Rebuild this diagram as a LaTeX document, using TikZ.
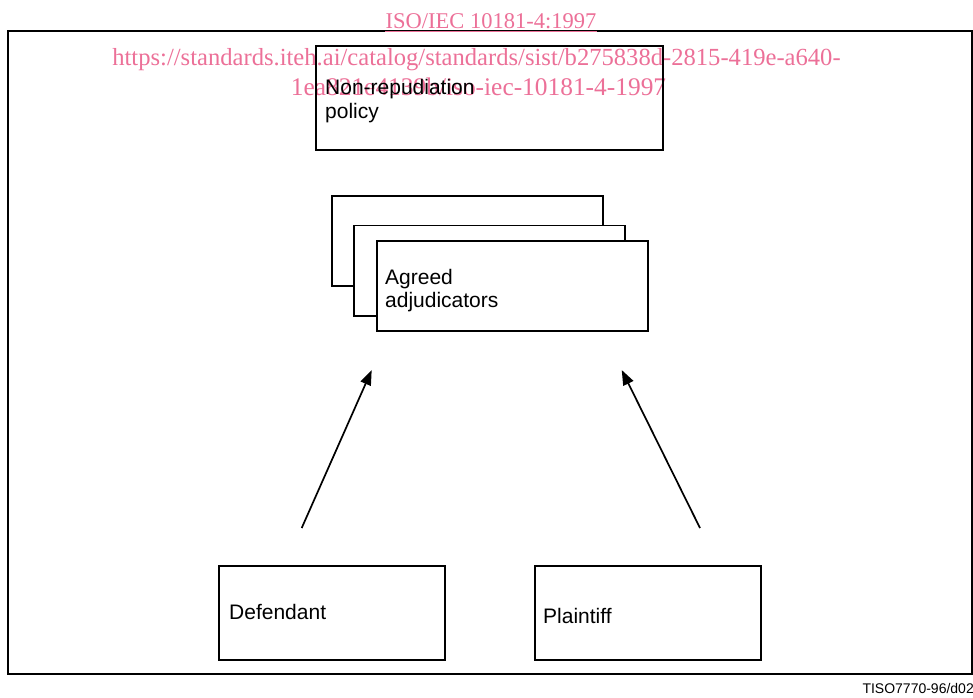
\documentclass[tikz,border=0pt]{standalone}
\usepackage{fontspec}
\setmainfont{Liberation Sans}
\newfontfamily\wmfont{Liberation Serif}
\usetikzlibrary{arrows.meta}
\definecolor{wmpink}{RGB}{236,112,152}
\begin{document}
\begin{tikzpicture}[x=1pt,y=-1pt,
  box/.style={draw,line width=1.6pt,inner sep=0pt,anchor=north west},
  stackbox/.style={box,fill=white,minimum width=271pt,minimum height=90pt},
  lbl/.style={inner sep=0pt,anchor=base west,font=\fontsize{21}{24}\selectfont},
  wm/.style={inner sep=0pt,anchor=base,text=wmpink},
  arr/.style={line width=1.7pt,-{Triangle[length=15pt,width=11pt]}}]
\useasboundingbox (0,0) rectangle (973,697);
% outer frame
\node[draw,line width=2.3pt,inner sep=0pt,anchor=north west,minimum width=964pt,minimum height=643pt] (frame) at (7,30) {};
% watermark
\node[wm,font=\wmfont\fontsize{22.5}{26}\selectfont] (wm1) at (491,28) {ISO/IEC 10181-4:1997};
\draw[wmpink,line width=1.2pt] ([yshift=-3.5pt]wm1.base west) -- ([yshift=-3.5pt]wm1.base east);
\node[wm,font=\wmfont\fontsize{24.6}{28}\selectfont] (wm2) at (476.5,65) {https://standards.iteh.ai/catalog/standards/sist/b275838d-2815-419e-a640-};
\node[wm,font=\wmfont\fontsize{25.4}{28}\selectfont] (wm3) at (478.5,95) {1ea821e4139b/iso-iec-10181-4-1997};
% policy box
\node[box,minimum width=347pt,minimum height=104pt] (policy) at (315,45) {};
\node[lbl] (policy1) at (325,94) {Non-repudiation};
\node[lbl] (policy2) at (325,118) {policy};
% stacked adjudicators
\node[stackbox] (adjback) at (331,195) {};
\node[stackbox,minimum height=90.5pt] (adjmid) at (353,224.5) {};
\node[stackbox] (adjfront) at (376,240) {};
\node[lbl] (adj1) at (385,284) {Agreed};
\node[lbl] (adj2) at (385,307) {adjudicators};
% parties
\node[box,minimum width=226pt,minimum height=94pt] (defendant) at (218,565) {};
\node[lbl] (deftxt) at (229,619) {Defendant};
\node[box,minimum width=226pt,minimum height=94pt] (plaintiff) at (534,565) {};
\node[lbl] (platxt) at (543,623) {Plaintiff};
% arrows
\coordinate (ltail) at (301.7,528);
\coordinate (lhead) at (371.7,370);
\coordinate (rtail) at (700,528);
\coordinate (rhead) at (621.7,370);
\draw[arr] (ltail) -- (lhead);
\draw[arr] (rtail) -- (rhead);
% figure code
\node[inner sep=0pt,anchor=base east,font=\fontsize{14}{16}\selectfont] (code) at (974,693) {TISO7770-96/d02};
\end{tikzpicture}
\end{document}
